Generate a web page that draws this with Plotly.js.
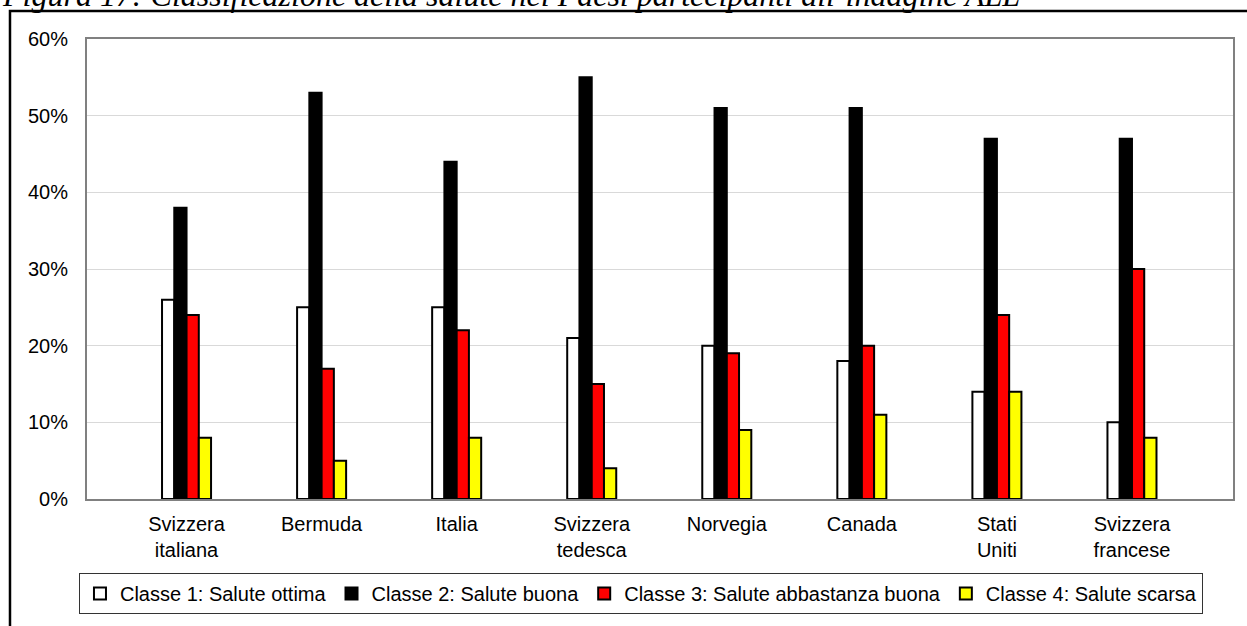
<!DOCTYPE html>
<html>
<head>
<meta charset="utf-8">
<script src="https://cdn.plot.ly/plotly-3.0.1.min.js"></script>
<style>
html,body{margin:0;padding:0;background:#fff;}
#chart{width:1247px;height:626px;}
</style>
</head>
<body>
<div id="chart"></div>
<script>
const categories = ["Svizzera<br>italiana","Bermuda","Italia","Svizzera<br>tedesca","Norvegia","Canada","Stati<br>Uniti","Svizzera<br>francese"];
const seriesNames = ["Classe 1: Salute ottima","Classe 2: Salute buona","Classe 3: Salute abbastanza buona","Classe 4: Salute scarsa"];
const classe1 = [26,25,25,21,20,18,14,10];
const classe2 = [38,53,44,55,51,51,47,47];
const classe3 = [24,17,22,15,19,20,24,30];
const classe4 = [8,5,8,4,9,11,14,8];
const yTicks = [0,10,20,30,40,50,60];
const titleText = "Figura 17: Classificazione della salute nei Paesi partecipanti all’indagine ALL";

const colors = ["#ffffff","#000000","#ff0000","#ffff00"];
const values = [classe1,classe2,classe3,classe4];
const idx = categories.map((c,i)=>i);

const traces = values.map((v,k)=>({
  type:'bar',
  name: seriesNames[k],
  x: idx,
  y: v,
  marker:{color:colors[k], line:{color:'#000000', width:2}},
  hoverinfo:'skip'
}));

const font = {family:'"Liberation Sans", Arial, sans-serif', size:20, color:'#000'};

const layout = {
  width:1247, height:626,
  margin:{l:87, r:14, t:39, b:127, pad:0},
  paper_bgcolor:'#ffffff', plot_bgcolor:'#ffffff',
  font: font,
  barmode:'group',
  bargap:0.637,
  bargroupgap:0,
  showlegend:true,
  legend:{
    orientation:'h',
    x:-0.007, xanchor:'left',
    y:-0.161, yanchor:'top',
    bgcolor:'#ffffff',
    bordercolor:'#333333', borderwidth:1,
    font: font,
    traceorder:'normal'
  },
  xaxis:{
    type:'linear',
    range:[-0.737, 7.748],
    tickmode:'array',
    tickvals: idx,
    ticktext: categories,
    ticks:'',
    showgrid:false,
    zeroline:false,
    showline:true, mirror:true,
    linecolor:'#808080', linewidth:2,
    ticklabelstandoff:6,
    tickfont: font
  },
  yaxis:{
    range:[0,60],
    tickmode:'array',
    tickvals: yTicks,
    ticktext: yTicks.map(t=>t+'%'),
    ticks:'',
    showgrid:true, gridcolor:'#d9d9d9', gridwidth:1,
    zeroline:false,
    showline:true, mirror:true,
    linecolor:'#808080', linewidth:2,
    ticklabelstandoff:13,
    tickfont: font
  },
  shapes:[{
    type:'rect', xref:'paper', yref:'paper',
    x0:-0.0672, x1:1.5, y0:-1, y1:1.0609,
    line:{color:'#000000', width:2.5}, fillcolor:'rgba(0,0,0,0)', layer:'below'
  }],
  annotations:[{
    xref:'paper', yref:'paper',
    x:-0.0759, xanchor:'left',
    y:1.0948, yanchor:'middle',
    text:'<i>'+titleText+'</i>',
    showarrow:false,
    font:{family:'"Liberation Serif", "Times New Roman", serif', size:32, color:'#000'}
  }]
};

Plotly.newPlot('chart', traces, layout, {staticPlot:true, displayModeBar:false});
</script>
</body>
</html>
